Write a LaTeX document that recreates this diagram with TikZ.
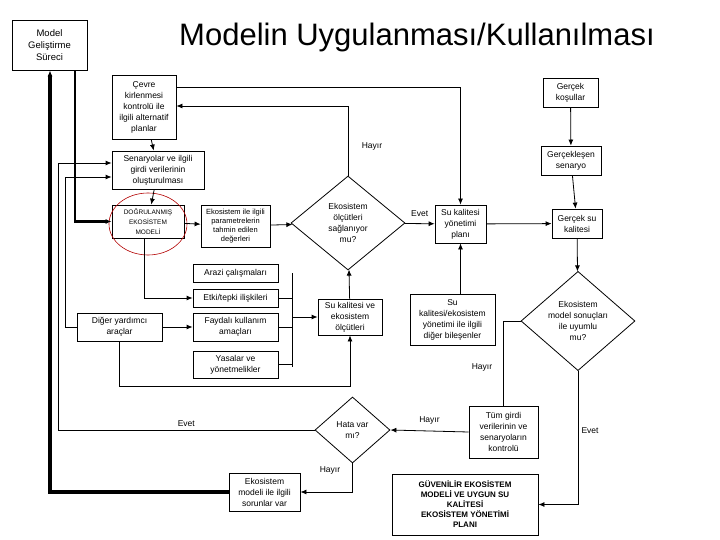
\documentclass[tikz,border=0pt]{standalone}
\usepackage{fontspec}
\setmainfont{Liberation Sans}
\usetikzlibrary{shapes.geometric,arrows.meta}
\tikzset{
  box/.style={draw,align=center,inner sep=1pt,font=\fontsize{8.5}{11}\selectfont},
  dec/.style={draw,diamond,align=center,inner sep=0pt,font=\fontsize{8.5}{11}\selectfont},
  lbl/.style={font=\fontsize{8.5}{11}\selectfont},
  arr/.style={-{Latex[length=6pt,width=5pt]}},
  thick line/.style={line width=2.5pt}
}
\begin{document}
\begin{tikzpicture}[x=1pt,y=-1pt,line width=0.8pt]
    \useasboundingbox (0,0) rectangle (720,540);
    \node[box,minimum width=75,minimum height=50,font=\fontsize{9.5}{12}\selectfont] (model) at (49.5,45) {Model\\Geliştirme\\Süreci};
    \node[font=\fontsize{31}{36}\selectfont] (title) at (417,37) {Modelin Uygulanması/Kullanılması};
    \node[box,minimum width=64,minimum height=64] (cevre) at (144,107) {Çevre\\kirlenmesi\\kontrolü ile\\ilgili alternatif\\planlar};
    \node[box,minimum width=55,minimum height=29] (kosul) at (570.5,92.5) {Gerçek\\koşullar};
    \node[box,minimum width=92,minimum height=38] (senaryo) at (158,170) {Senaryolar ve ilgili\\girdi verilerinin\\oluşturulması};
    \node[box,minimum width=60,minimum height=29] (gsenaryo) at (571,160.5) {Gerçekleşen\\senaryo};
    \node[box,minimum width=72,minimum height=33,font=\fontsize{6.5}{10}\selectfont] (dogru) at (148,221.5) {DOĞRULANMIŞ\\EKOSİSTEM\\MODELİ};
    \draw[red!70!black,line width=0.6pt] (148,224) ellipse (39 and 31);
    \node[box,minimum width=69,minimum height=42,font=\fontsize{7.5}{9}\selectfont] (param) at (235.5,226) {Ekosistem ile ilgili\\parametrelerin\\tahmin edilen\\değerleri};
    \node[dec,minimum width=114,minimum height=94] (olcut) at (348,223) {Ekosistem\\ölçütleri\\sağlanıyor\\mu?};
    \node[box,minimum width=51,minimum height=38] (plan) at (460.5,224) {Su kalitesi\\yönetimi\\planı};
    \node[box,minimum width=50,minimum height=29] (gsu) at (577,223.5) {Gerçek su\\kalitesi};
    \node[box,minimum width=85,minimum height=18] (arazi) at (235.5,273) {Arazi çalışmaları};
    \node[box,minimum width=85,minimum height=18] (etki) at (235.5,298) {Etki/tepki ilişkileri};
    \node[box,minimum width=85,minimum height=28] (diger) at (119.5,327) {Diğer yardımcı\\araçlar};
    \node[box,minimum width=85,minimum height=28] (fayda) at (235.5,327) {Faydalı kullanım\\amaçları};
    \node[box,minimum width=85,minimum height=27] (yasa) at (235.5,364.5) {Yasalar ve\\yönetmelikler};
    \node[box,minimum width=64,minimum height=36] (suolc) at (350,317) {Su kalitesi ve\\ekosistem\\ölçütleri};
    \node[box,minimum width=85,minimum height=51] (bilesen) at (452.5,319.5) {Su\\kalitesi/ekosistem\\yönetimi ile ilgili\\diğer bileşenler};
    \node[dec,minimum width=114,minimum height=94] (uyum) at (578,321) {Ekosistem\\model sonuçları\\ile uyumlu\\mu?};
    \node[dec,minimum width=75,minimum height=66] (hata) at (352.5,430) {Hata var\\mı?};
    \node[box,minimum width=69,minimum height=52] (tum) at (503.5,432) {Tüm girdi\\verilerinin ve\\senaryoların\\kontrolü};
    \node[box,minimum width=71,minimum height=38] (sorun) at (264.5,492) {Ekosistem\\modeli ile ilgili\\sorunlar var};
    \node[box,minimum width=146,minimum height=61,font=\fontsize{8}{10}\selectfont\bfseries] (guven) at (465,504.5) {GÜVENİLİR EKOSİSTEM\\MODELİ VE UYGUN SU\\KALİTESİ\\EKOSİSTEM YÖNETİMİ\\PLANI};
    % ana akis
    \draw[arr] (cevre) -- (senaryo);
    \draw[arr] (senaryo) -- (dogru);
    \draw[arr] (dogru) -- (param);
    \draw[arr] (param) -- (olcut);
    \draw[arr] (olcut) -- node[lbl,above=3pt] {Evet} (plan);
    \draw[arr] (plan) -- (gsu);
    \draw[arr] (kosul) -- (gsenaryo);
    \draw[arr] (gsenaryo) -- (gsu);
    \draw[arr] (gsu) -- (uyum);
    \draw[arr] (olcut.north) |- (cevre.east |- 0,106);
    \node[lbl] (hayir1) at (372,146) {Hayır};
    \draw[arr] (cevre.east |- 0,87) -| (plan.north);
    \draw[arr] (bilesen.north -| plan.south) -- (plan.south);
    \draw[arr] (suolc) -- (olcut);
    % model kutusu
    \draw[arr,thick line] (model.south -| 75,0) |- (dogru.west);
    \draw[arr,line width=4pt] (sorun.west) -| (model.south -| 50,0);
    % alt kutular
    \draw[arr] (dogru.south -| 144,0) |- (etki.west);
    \draw[arr] (diger) -- (fayda);
    \draw (arazi.east) ++(14,0) coordinate (bus1) -- ++(0,94) coordinate (bus2);
    \draw (etki.east) -- (etki.east -| bus1);
    \draw (fayda.east) -- (fayda.east -| bus1);
    \draw (yasa.east) -- (yasa.east -| bus1);
    \draw[arr] (suolc.west -| bus1) -- (suolc.west);
    \draw[arr] (diger.south) -- (diger.south |- 0,386) -| (suolc.south);
    \draw[arr] (diger.west) -| (65,177) -- (senaryo.west |- 0,177);
    \draw[arr] (hata.west) -- node[lbl,above,pos=0.5] {Evet} (58,430) |- (senaryo.west |- 0,163);
    \draw[arr] (hata.south) |- (sorun.east);
    \node[lbl] (hayir2) at (330,470) {Hayır};
    \draw[arr] (tum.west) -- node[lbl,above=3pt] {Hayır} (hata.east);
    \draw (uyum.west) -| (tum.north);
    \node[lbl] (hayir3) at (482,367) {Hayır};
    \draw[arr] (uyum.south) |- (guven.east);
    \node[lbl] (evet3) at (590,431) {Evet};
\end{tikzpicture}
\end{document}
